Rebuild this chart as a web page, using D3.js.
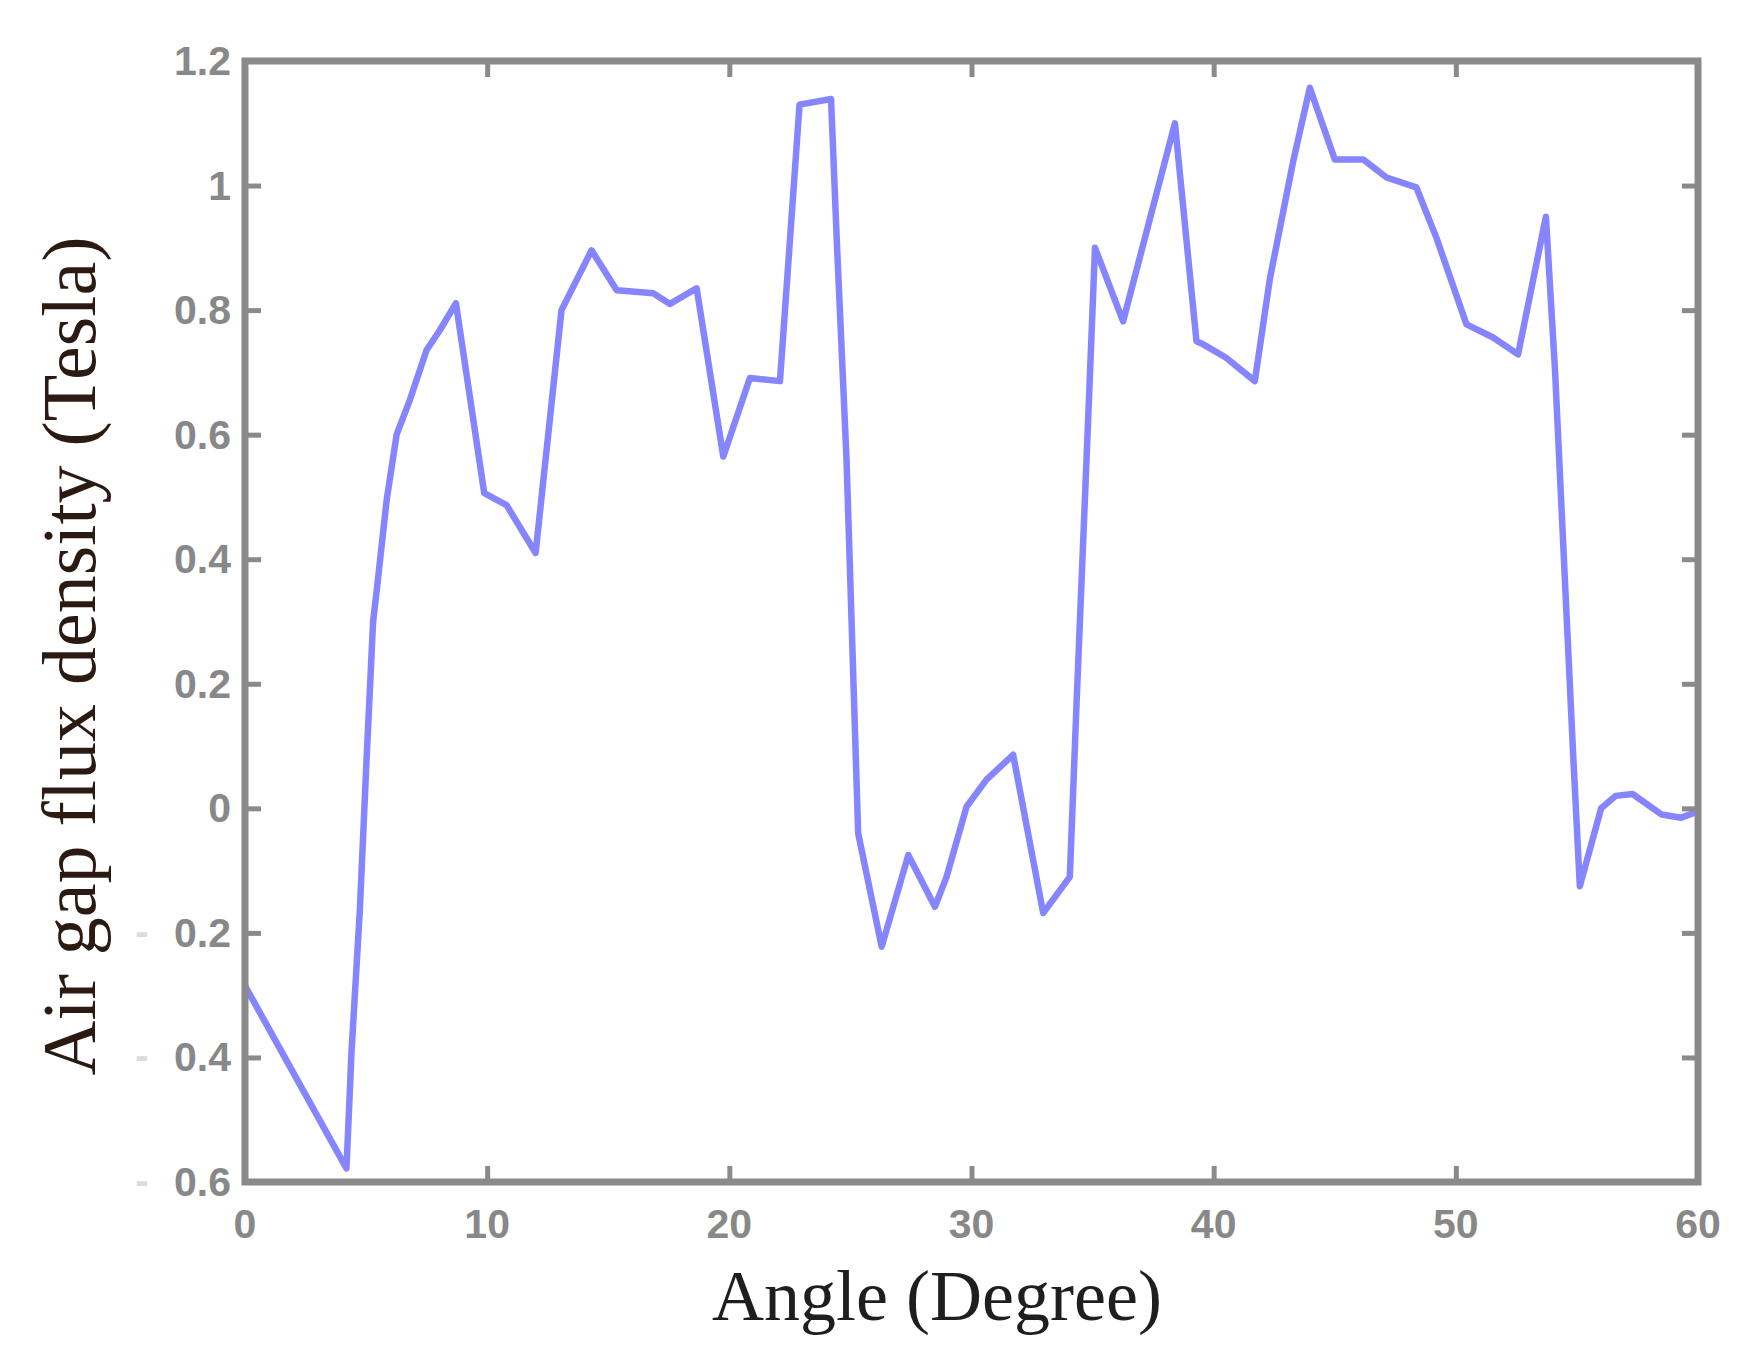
<!DOCTYPE html>
<html>
<head>
<meta charset="utf-8">
<script src="https://cdn.jsdelivr.net/npm/d3@7"></script>
<style>
  html, body { margin: 0; padding: 0; background: #ffffff; }
  svg { display: block; }
</style>
</head>
<body>
<svg id="chart" width="1749" height="1356"></svg>
<script>
// ---- data ----
const angle = [0, 4.19, 4.40, 4.74, 5.01, 5.29, 5.44, 5.85, 6.26, 6.81,
  7.5, 8.05, 8.71, 9.88, 10.8, 12.0, 13.07, 14.31, 15.35, 16.86,
  17.55, 18.65, 19.75, 20.85, 22.09, 22.9, 24.2, 24.45, 24.84, 25.32,
  26.29, 27.39, 28.49, 28.97, 29.8, 30.62, 31.72, 32.96, 34.06, 34.34,
  34.75, 35.1, 36.26, 38.4, 39.29, 39.57, 40.5, 41.7, 42.32, 43.29,
  43.97, 45.0, 46.17, 47.14, 48.37, 49.2, 50.44, 51.54, 52.57, 53.72,
  54.1, 54.5, 54.84, 55.12, 56.0, 56.6, 57.3, 58.5, 59.3, 60];
const flux = [-0.285, -0.578, -0.39, -0.165, 0.07, 0.30, 0.35, 0.495, 0.60, 0.656,
  0.736, 0.768, 0.811, 0.506, 0.487, 0.41, 0.80, 0.896, 0.832, 0.827,
  0.81, 0.835, 0.565, 0.691, 0.686, 1.13, 1.139, 0.9, 0.56, -0.04,
  -0.222, -0.075, -0.158, -0.11, 0.003, 0.046, 0.086, -0.168, -0.11, 0.17,
  0.56, 0.90, 0.782, 1.10, 0.75, 0.745, 0.724, 0.686, 0.85, 1.04,
  1.157, 1.042, 1.042, 1.013, 0.997, 0.916, 0.777, 0.756, 0.729, 0.95,
  0.70, 0.37, 0.09, -0.125, 0.0, 0.02, 0.023, -0.01, -0.015, -0.005];
const xTicks = [0, 10, 20, 30, 40, 50, 60];
const yTicks = [-0.6, -0.4, -0.2, 0, 0.2, 0.4, 0.6, 0.8, 1, 1.2];
const xTitle = "Angle (Degree)";
const yTitle = "Air gap flux density (Tesla)";

// ---- layout ----
const L = 245, R = 1698, T = 61, B = 1182;
const axisColor = "#8a8a8a";
const labelColor = "#888888";
const svg = d3.select("#chart");
svg.append("rect").attr("width", 1749).attr("height", 1356).attr("fill", "#fff");

const x = d3.scaleLinear().domain([0, 60]).range([L, R]);
const y = d3.scaleLinear().domain([-0.6, 1.2]).range([B, T]);

// data line
const pts = angle.map((a, i) => [a, flux[i]]);
svg.append("path")
  .datum(pts)
  .attr("fill", "none")
  .attr("stroke", "#8585ff")
  .attr("stroke-width", 6.5)
  .attr("stroke-linejoin", "round")
  .attr("d", d3.line().x(d => x(d[0])).y(d => y(d[1])));

// axes with inward ticks (MATLAB style)
const tickLen = 16;
function styleAxis(g) {
  g.select(".domain").remove();
  g.selectAll(".tick line").attr("stroke", axisColor).attr("stroke-width", 5);
  g.selectAll(".tick text").remove();
}
svg.append("g").attr("transform", `translate(0,${B})`)
  .call(d3.axisBottom(x).tickValues(xTicks).tickSize(-tickLen)).call(styleAxis);
svg.append("g").attr("transform", `translate(0,${T})`)
  .call(d3.axisTop(x).tickValues(xTicks).tickSize(-tickLen)).call(styleAxis);
svg.append("g").attr("transform", `translate(${L},0)`)
  .call(d3.axisLeft(y).tickValues(yTicks).tickSize(-tickLen)).call(styleAxis);
svg.append("g").attr("transform", `translate(${R},0)`)
  .call(d3.axisRight(y).tickValues(yTicks).tickSize(-tickLen)).call(styleAxis);

// frame
svg.append("rect")
  .attr("x", L).attr("y", T).attr("width", R - L).attr("height", B - T)
  .attr("fill", "none").attr("stroke", axisColor).attr("stroke-width", 7);

// tick labels
const fmt = v => {
  const a = Math.abs(v);
  return (Math.round(a * 10) / 10).toString();
};
svg.append("g").selectAll("text").data(xTicks).join("text")
  .attr("x", d => x(d)).attr("y", 1238)
  .attr("text-anchor", "middle")
  .attr("font-family", "Liberation Sans, Arial, sans-serif")
  .attr("font-weight", "bold").attr("font-size", 41)
  .attr("fill", labelColor)
  .text(d => d);

const yl = svg.append("g");
yl.selectAll("text.v").data(yTicks).join("text")
  .attr("class", "v")
  .attr("x", 231).attr("y", d => y(d) + 14)
  .attr("text-anchor", "end")
  .attr("font-family", "Liberation Sans, Arial, sans-serif")
  .attr("font-weight", "bold").attr("font-size", 41)
  .attr("fill", labelColor)
  .text(d => fmt(d));
yl.selectAll("text.m").data(yTicks.filter(d => d < 0)).join("text")
  .attr("class", "m")
  .attr("x", 142).attr("y", d => y(d) + 12)
  .attr("text-anchor", "middle")
  .attr("font-family", "Liberation Sans, Arial, sans-serif")
  .attr("font-weight", "bold").attr("font-size", 40)
  .attr("fill", "#dcdcdc")
  .text("-");

// axis titles
svg.append("text")
  .attr("x", 937).attr("y", 1320)
  .attr("text-anchor", "middle")
  .attr("font-family", "Liberation Serif, Times New Roman, serif")
  .attr("font-size", 72)
  .attr("fill", "#1e1e1e")
  .text(xTitle);
svg.append("text")
  .attr("transform", "translate(95,656) rotate(-90)")
  .attr("text-anchor", "middle")
  .attr("font-family", "Liberation Serif, Times New Roman, serif")
  .attr("font-size", 76)
  .attr("fill", "#2a1a12")
  .text(yTitle);
</script>
</body>
</html>
